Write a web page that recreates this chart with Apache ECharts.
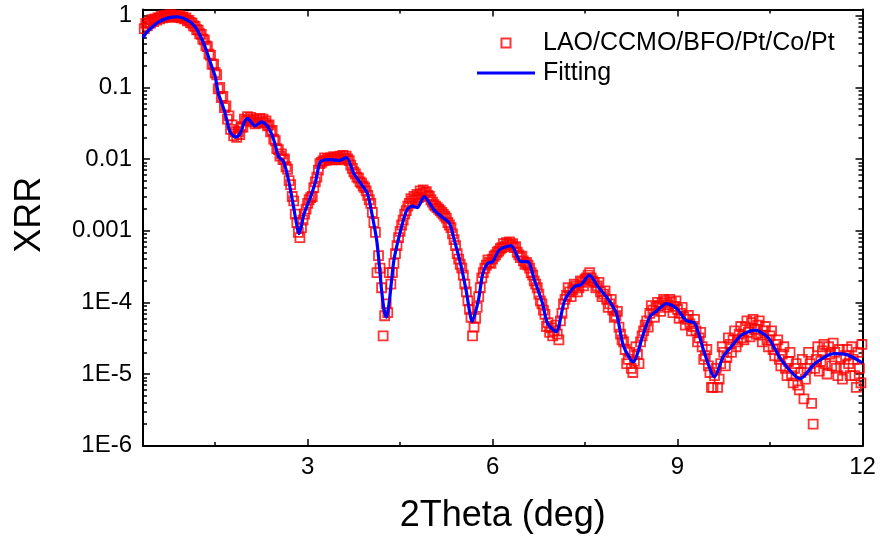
<!DOCTYPE html>
<html><head><meta charset="utf-8">
<script src="https://cdn.jsdelivr.net/npm/echarts@6/dist/echarts.min.js"></script>
<style>html,body{margin:0;padding:0;background:#fff}#c{width:880px;height:538px}</style>
</head><body><div id="c"></div>
<script>
// ---- tick values ----
const xMajorTicks = [3, 6, 9, 12];
const xMinorTicks = [1.5, 4.5, 7.5, 10.5];
const yMajorTicks = [1e-6, 1e-5, 1e-4, 1e-3, 1e-2, 1e-1, 1];
const yMinorTicks = [2e-6,3e-6,4e-6,5e-6,6e-6,7e-6,8e-6,9e-6,
  2e-5,3e-5,4e-5,5e-5,6e-5,7e-5,8e-5,9e-5,
  2e-4,3e-4,4e-4,5e-4,6e-4,7e-4,8e-4,9e-4,
  0.002,0.003,0.004,0.005,0.006,0.007,0.008,0.009,
  0.02,0.03,0.04,0.05,0.06,0.07,0.08,0.09,
  0.2,0.3,0.4,0.5,0.6,0.7,0.8,0.9];

const seriesNames = ['LAO/CCMO/BFO/Pt/Co/Pt', 'Fitting'];

// ---- measured XRR (2Theta, intensity) ----
const measuredMain = [
[0.35,0.66],[0.40,0.72],[0.45,0.78],[0.50,0.83],[0.55,0.87],[0.60,0.90],[0.65,0.93],[0.70,0.95],[0.75,0.96],[0.80,0.96],
[0.85,0.96],[0.90,0.95],[0.95,0.93],[1.00,0.90],[1.05,0.85],[1.10,0.80],[1.15,0.72],[1.20,0.64],[1.25,0.56],[1.30,0.47],
[1.35,0.38],[1.40,0.29],[1.45,0.21],[1.50,0.16],[1.55,0.095],[1.60,0.072],[1.65,0.052],[1.70,0.036],[1.75,0.026],[1.80,0.021],
[1.85,0.020],[1.90,0.022],[1.95,0.028],[2.00,0.034],[2.05,0.035],[2.10,0.033],[2.15,0.031],[2.20,0.032],[2.25,0.033],[2.30,0.032],
[2.35,0.029],[2.40,0.024],[2.45,0.019],[2.50,0.014],[2.55,0.011],[2.60,0.0098],[2.65,0.0078],[2.70,0.0050],[2.75,0.0030],[2.80,0.0017],
[2.85,0.00095],[2.90,0.0011],[2.95,0.0017],[3.00,0.0024],[3.05,0.0029],[3.10,0.0040],[3.15,0.0056],[3.20,0.0086],[3.25,0.0094],[3.30,0.0096],
[3.35,0.0098],[3.40,0.0097],[3.45,0.0099],[3.50,0.0097],[3.55,0.0100],[3.60,0.0104],[3.65,0.0100],[3.70,0.0082],[3.75,0.0066],[3.80,0.0056],
[3.85,0.0048],[3.90,0.0042],[3.95,0.0036],[4.00,0.0027],[4.05,0.0018],[4.10,0.00095],[4.15,0.00045],[4.20,0.00016],[4.25,0.000065],[4.30,0.000072],
[4.35,0.00018],[4.40,0.00035],[4.45,0.00062],[4.50,0.00098],[4.55,0.0014],[4.60,0.0019],[4.65,0.0024],[4.70,0.0026],[4.75,0.0027],[4.80,0.0029],
[4.85,0.0033],[4.90,0.0034],[4.95,0.0031],[5.00,0.0027],[5.05,0.0023],[5.10,0.0021],[5.15,0.0019],[5.20,0.0017],[5.25,0.0015],[5.30,0.0012],
[5.35,0.00090],[5.40,0.00062],[5.45,0.00040],[5.50,0.00030],[5.55,0.00018],[5.60,0.000105],[5.65,0.000062],[5.70,0.000045],[5.75,0.000085],[5.80,0.00016],
[5.85,0.00026],[5.90,0.00033],[5.95,0.00036],[6.00,0.00040],[6.05,0.00046],[6.10,0.00052],[6.15,0.00058],[6.20,0.00060],[6.25,0.00064],[6.30,0.00063],
[6.35,0.00058],[6.40,0.00050],[6.45,0.00042],[6.50,0.00038],[6.55,0.00036],[6.60,0.00030],[6.65,0.00024],[6.70,0.00018],[6.75,0.00013],[6.80,0.000095],
[6.85,0.000068],[6.90,0.000052],[6.95,0.000044],[7.00,0.000040],[7.05,0.000036],[7.10,0.000055],[7.15,0.000095],[7.20,0.000125],[7.25,0.00014],[7.30,0.00015],
[7.35,0.00017],[7.40,0.00016],[7.45,0.00019],[7.50,0.00021],[7.55,0.00024],[7.60,0.00022],[7.65,0.00019],[7.70,0.00017],[7.75,0.00014],[7.80,0.00013],
[7.85,0.00011],[7.90,0.000095],[7.95,0.000078],[8.00,0.000065],[8.05,0.000045],[8.10,0.000030],[8.15,0.000022],[8.20,0.000016],[8.25,0.000012],[8.30,0.000015],
[8.35,0.000019],[8.40,0.000028],[8.45,0.000040],[8.50,0.000055],[8.55,0.000070],[8.60,0.000078],[8.65,0.000085],[8.70,0.000090],[8.75,0.000098],[8.80,0.000105],
[8.85,0.000092],[8.90,0.000100],[8.95,0.000088],[9.00,0.000080],[9.05,0.000070],[9.10,0.000062],[9.15,0.000058],[9.20,0.000050],[9.25,0.000046],[9.30,0.000040],
[9.35,0.000032],[9.40,0.000024],[9.45,0.000018],[9.50,0.000013],[9.55,0.0000065],[9.60,0.0000095],[9.65,0.0000065],[9.70,0.000014],[9.75,0.000020],[9.80,0.000017],
[9.85,0.000026],[9.90,0.000030],[9.95,0.000024],[10.00,0.000036],[10.05,0.000032],[10.10,0.000045],[10.15,0.000038],[10.20,0.000052],[10.25,0.000042],[10.30,0.000048],
[10.35,0.000035],[10.40,0.000040],[10.45,0.000030],[10.50,0.000034],[10.55,0.000022],[10.60,0.000026],[10.65,0.000016],[10.70,0.000019],[10.75,0.000012],[10.80,0.000015],
[10.85,0.0000095],[10.90,0.000012],[10.95,0.000007],[11.00,0.0000105],[11.05,0.0000045],[11.10,0.000012],[11.15,0.000014],[11.20,0.000002],[11.25,0.000016],[11.30,0.000011],
[11.35,0.000021],[11.40,0.000014],[11.45,0.000024],[11.50,0.000013],[11.55,0.000020],[11.60,0.0000095],[11.65,0.000017],[11.70,0.000012],[11.75,0.000022],[11.80,0.0000095],
[11.85,0.000016],[11.90,0.0000065],[11.95,0.000012],[11.99,0.000026]
];
const measuredExtra = [
[0.375,0.78],[0.425,0.82],[0.475,0.88],[0.525,0.90],[0.575,0.94],[0.625,0.98],[0.675,1.00],[0.725,1.02],[0.775,1.03],[0.825,1.02],
[0.875,1.01],[0.925,0.99],[0.975,0.96],[1.025,0.93],[1.075,0.86],[1.125,0.79],[1.175,0.71],[1.225,0.63],[1.275,0.55],[1.325,0.46],
[1.375,0.37],[1.425,0.28],[1.475,0.21],[1.525,0.15],[1.575,0.10],[1.625,0.075],[1.675,0.055],[1.725,0.040],[1.775,0.030],[1.825,0.024],
[1.875,0.024],[1.925,0.028],[1.975,0.036],[2.025,0.039],[2.075,0.038],[2.125,0.036],[2.175,0.035],[2.225,0.037],[2.275,0.036],[2.325,0.034],
[2.375,0.030],[2.425,0.025],[2.475,0.018],[2.525,0.0135],[2.575,0.0118],[2.625,0.0100],[2.675,0.0072],[2.725,0.0044],[2.775,0.0026],[2.825,0.0013],
[2.875,0.00080],[2.925,0.0014],[2.975,0.0020],[3.025,0.0027],[3.075,0.0030],[3.125,0.0048],[3.175,0.0070],[3.225,0.0090],[3.275,0.0104],[3.325,0.0102],
[3.375,0.0104],[3.425,0.0108],[3.475,0.0105],[3.525,0.0110],[3.575,0.0112],[3.625,0.0110],[3.675,0.0095],[3.725,0.0074],[3.775,0.0062],[3.825,0.0054],
[3.875,0.0046],[3.925,0.0040],[3.975,0.0031],[4.025,0.0024],[4.075,0.0013],[4.125,0.00026],[4.175,0.00030],[4.225,0.000034],[4.275,0.000095],[4.325,0.00026],
[4.375,0.00026],[4.425,0.00048],[4.475,0.00080],[4.525,0.0012],[4.575,0.0017],[4.625,0.0022],[4.675,0.0028],[4.725,0.0030],[4.775,0.0032],[4.825,0.0036],
[4.875,0.0037],[4.925,0.0035],[4.975,0.0030],[5.025,0.0025],[5.075,0.0022],[5.125,0.0020],[5.175,0.0018],[5.225,0.0016],[5.275,0.0013],[5.325,0.0011],
[5.375,0.00075],[5.425,0.00048],[5.475,0.00034],[5.525,0.00024],[5.575,0.00014],[5.625,0.000080],[5.675,0.000034],[5.725,0.000060],[5.775,0.00012],[5.825,0.00022],
[5.875,0.00030],[5.925,0.00039],[5.975,0.00035],[6.025,0.00044],[6.075,0.00050],[6.125,0.00056],[6.175,0.00066],[6.225,0.00068],[6.275,0.00070],[6.325,0.00066],
[6.375,0.00060],[6.425,0.00046],[6.475,0.00044],[6.525,0.00034],[6.575,0.00033],[6.625,0.00026],[6.675,0.00020],[6.725,0.00016],[6.775,0.000105],[6.825,0.000078],
[6.875,0.000046],[6.925,0.000038],[6.975,0.000034],[7.025,0.000048],[7.075,0.000030],[7.125,0.000070],[7.175,0.00011],[7.225,0.00016],[7.275,0.00012],[7.325,0.00018],
[7.375,0.00014],[7.425,0.00020],[7.475,0.00017],[7.525,0.00022],[7.575,0.00026],[7.625,0.00020],[7.675,0.00016],[7.725,0.00019],[7.775,0.00012],[7.825,0.000145],
[7.875,0.000085],[7.925,0.00011],[7.975,0.000062],[8.025,0.000075],[8.075,0.000036],[8.125,0.000028],[8.175,0.000014],[8.225,0.000020],[8.275,0.0000105],[8.325,0.000024],
[8.375,0.000014],[8.425,0.000034],[8.475,0.000048],[8.525,0.000045],[8.575,0.000090],[8.625,0.000062],[8.675,0.000100],[8.725,0.000075],[8.775,0.000110],[8.825,0.000085],
[8.875,0.000110],[8.925,0.000072],[8.975,0.000105],[9.025,0.000060],[9.075,0.000085],[9.125,0.000048],[9.175,0.000066],[9.225,0.000040],[9.275,0.000058],[9.325,0.000028],
[9.375,0.000038],[9.425,0.000016],[9.475,0.000022],[9.525,0.0000105],[9.575,0.0000065],[9.625,0.000012],[9.675,0.0000085],[9.725,0.000024],[9.775,0.000013],[9.825,0.000032],
[9.875,0.000020],[9.925,0.000040],[9.975,0.000028],[10.025,0.000046],[10.075,0.000030],[10.125,0.000055],[10.175,0.000033],[10.225,0.000058],[10.275,0.000036],[10.325,0.000055],
[10.375,0.000028],[10.425,0.000046],[10.475,0.000024],[10.525,0.000040],[10.575,0.000018],[10.625,0.000030],[10.675,0.000013],[10.725,0.000024],[10.775,0.0000095],[10.825,0.000020],
[10.875,0.0000075],[10.925,0.000014],[10.975,0.000006],[11.025,0.000016],[11.075,0.0000085],[11.125,0.000020],[11.175,0.0000039],[11.225,0.000012],[11.275,0.000024],[11.325,0.000015],
[11.375,0.000026],[11.425,0.000010],[11.475,0.000019],[11.525,0.000027],[11.575,0.000012],[11.625,0.000022],[11.675,0.0000085],[11.725,0.000018],[11.775,0.000014],[11.825,0.000024],
[11.875,0.0000095],[11.925,0.000020],[11.975,0.0000075]
];

// ---- fitting curve ----
const fitX = [0.33,0.40,0.50,0.60,0.70,0.80,0.88,0.95,1.00,1.05,1.12,1.20,1.26,1.32,1.39,1.45,1.50,1.55,1.60,1.66,
1.74,1.80,1.84,1.91,1.97,2.03,2.09,2.15,2.25,2.31,2.37,2.45,2.53,2.61,2.69,2.77,2.82,2.86,2.90,2.94,
3.05,3.13,3.21,3.37,3.51,3.63,3.75,3.86,3.97,4.05,4.12,4.16,4.20,4.24,4.28,4.33,4.40,4.51,4.61,4.70,
4.78,4.89,5.05,5.16,5.30,5.38,5.49,5.57,5.67,5.77,5.84,5.92,6.00,6.11,6.30,6.46,6.57,6.68,6.81,6.89,
7.03,7.17,7.33,7.44,7.57,7.71,7.87,8.01,8.12,8.28,8.44,8.55,8.66,8.82,8.98,9.14,9.28,9.44,9.60,9.74,
9.87,10.04,10.26,10.47,10.69,10.99,11.23,11.53,11.75,12.00];
const fitY = [0.495,0.60,0.72,0.83,0.91,0.955,0.966,0.944,0.91,0.87,0.79,0.65,0.52,0.40,0.27,0.19,0.143,0.084,0.063,0.044,
0.024,0.021,0.0202,0.023,0.032,0.037,0.032,0.029,0.033,0.031,0.027,0.0186,0.0108,0.0092,0.0051,0.0022,0.00126,0.00091,0.00117,0.0017,
0.0030,0.0049,0.0092,0.0098,0.0095,0.0105,0.0063,0.0046,0.0033,0.0016,0.00074,0.00035,0.000148,0.000079,0.000062,0.000112,0.00039,0.00102,0.00195,0.0022,
0.0021,0.0030,0.00195,0.0016,0.00127,0.00074,0.00032,0.000148,0.000054,0.000107,0.00025,0.00035,0.00037,0.00054,0.00062,0.00037,0.00037,0.000204,0.000097,0.000051,
0.000039,0.000107,0.000166,0.000178,0.00024,0.000166,0.000112,0.00007,0.000025,0.0000148,0.000035,0.000063,0.000076,0.000096,0.000083,0.000056,0.000051,0.0000193,0.0000091,0.0000174,
0.000024,0.000035,0.000041,0.000032,0.0000155,0.0000086,0.000014,0.0000193,0.0000186,0.0000143];

const FONT = 'Liberation Sans, Arial, sans-serif';
const X_MIN = 0.33, X_MAX = 12, Y_MIN = 0.99e-6, Y_MAX = 1.22;

function yFmt(v) {
  if (v >= 0.001) return String(+v.toPrecision(3));
  return '1E' + Math.round(Math.log10(v));
}

function xAxisDef(pos, ticks, len, withLabels, withLine) {
  return {
    type: 'value', position: pos, min: X_MIN, max: X_MAX,
    axisLine: { show: withLine, onZero: false, lineStyle: { color: '#000', width: 2 } },
    axisTick: { show: true, inside: true, length: len, customValues: ticks, lineStyle: { color: '#000', width: 1.5 } },
    axisLabel: { show: withLabels, customValues: ticks, color: '#000', fontSize: 24, fontFamily: FONT, margin: 9 },
    splitLine: { show: false }
  };
}
function yAxisDef(pos, ticks, len, withLabels, withLine) {
  return {
    type: 'log', logBase: 10, position: pos, min: Y_MIN, max: Y_MAX,
    axisLine: { show: withLine, onZero: false, lineStyle: { color: '#000', width: 2 } },
    axisTick: { show: true, inside: true, length: len, customValues: ticks, lineStyle: { color: '#000', width: 1.5 } },
    axisLabel: { show: withLabels, customValues: ticks, color: '#000', fontSize: 24, fontFamily: FONT, margin: 11, formatter: yFmt },
    splitLine: { show: false }
  };
}

const xAxes = [
  Object.assign(xAxisDef('bottom', xMajorTicks, 7, true, true), {
    name: '2Theta (deg)', nameLocation: 'middle', nameGap: 52,
    nameTextStyle: { color: '#000', fontSize: 36, fontFamily: FONT }
  }),
  xAxisDef('bottom', xMinorTicks, 4, false, false),
  xAxisDef('top', xMajorTicks, 7, false, true),
  xAxisDef('top', xMinorTicks, 4, false, false)
];
const yAxes = [
  Object.assign(yAxisDef('left', yMajorTicks, 7, true, true), {
    name: 'XRR', nameLocation: 'middle', nameGap: 95,
    nameTextStyle: { color: '#000', fontSize: 36, fontFamily: FONT, padding: [0, 0, 0, 26] }
  }),
  yAxisDef('left', yMinorTicks, 4, false, false),
  yAxisDef('right', yMajorTicks, 7, false, true),
  yAxisDef('right', yMinorTicks, 4, false, false)
];

const chart = echarts.init(document.getElementById('c'), null, { renderer: 'canvas' });
chart.setOption({
  animation: false,
  backgroundColor: '#fff',
  grid: { left: 143, right: 17.5, top: 9.5, bottom: 92, outerBoundsMode: 'none', containLabel: false },
  xAxis: xAxes,
  yAxis: yAxes,
  legend: {
    orient: 'vertical', left: 477, top: 29, padding: 0, itemGap: 2,
    itemWidth: 58, itemHeight: 9,
    textStyle: { color: '#000', fontSize: 25, fontFamily: FONT, lineHeight: 28, padding: [0, 0, 0, 3] },
    data: [
      { name: seriesNames[0], icon: 'path://M0 0H10V10H0Z' },
      { name: seriesNames[1], icon: 'path://M0 0H58V3H0Z', itemStyle: { color: '#0000ff' } }
    ],
    selectedMode: false
  },
  series: [
    {
      name: seriesNames[0], type: 'scatter', xAxisIndex: 0, yAxisIndex: 0,
      symbol: 'rect', symbolSize: 9,
      itemStyle: { color: 'rgba(255,255,255,0)', borderColor: '#ff0000', borderWidth: 1.8 },
      data: measuredMain.concat(measuredExtra)
    },
    {
      name: seriesNames[1], type: 'line', xAxisIndex: 0, yAxisIndex: 0,
      symbol: 'none', smooth: 0.25,
      lineStyle: { color: '#0000ff', width: 3.2 },
      itemStyle: { color: '#0000ff' },
      data: fitX.map((x, i) => [x, fitY[i]])
    }
  ]
});
</script></body></html>
